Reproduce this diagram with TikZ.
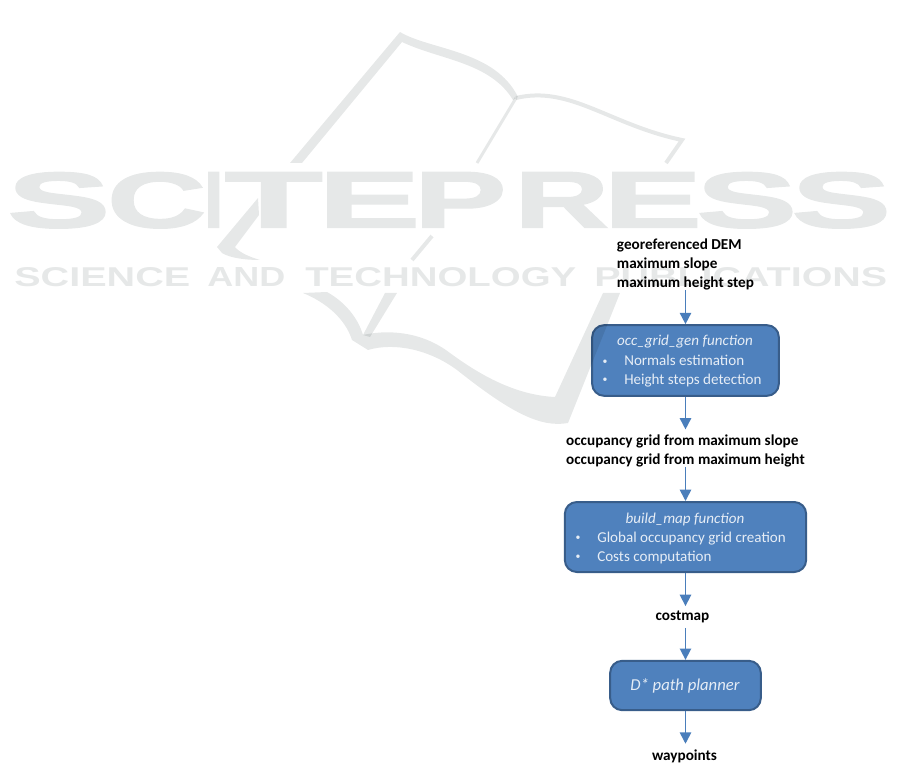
\documentclass[tikz,border=0pt]{standalone}
\usepackage{fontspec}
\setmainfont{Carlito}
\newfontfamily\markfont[FakeBold=1.5]{Liberation Sans Bold}
\newfontfamily\wordfont{Liberation Sans Bold}
\usetikzlibrary{arrows.meta}

\definecolor{taskfill}{HTML}{4F81BD}
\definecolor{taskline}{HTML}{385D8A}
\definecolor{flowline}{HTML}{4A7EBB}
\definecolor{tasktext}{HTML}{E6EDF6}
\definecolor{markgray}{HTML}{E6E8E8}

\newcommand{\itembullet}{\llap{\raisebox{0.8pt}{\scalebox{0.65}{\textbullet}}\hspace{12.5pt}}}

\tikzset{
    taskbox/.style={draw=taskline, fill=taskfill, line width=1.5pt, rounded corners=9pt, inner sep=0pt},
    tasktitle/.style={text=tasktext, inner sep=0pt, anchor=base, font=\itshape\fontsize{11.3}{13}\selectfont},
    taskitem/.style={text=tasktext, inner sep=0pt, anchor=base west, font=\fontsize{11.3}{13}\selectfont},
    datalabel/.style={inner sep=0pt, align=left, font=\bfseries\fontsize{11.4}{14.25}\selectfont},
    flow/.style={draw=flowline, line width=1.25pt, -{Triangle[length=8.5pt, width=8.5pt]}},
    markstroke/.style={draw=markgray, line cap=butt}
}

\begin{document}
\begin{tikzpicture}[x=0.75pt, y=-0.75pt]
    \useasboundingbox (0, 0) rectangle (901, 763);

    % watermark letters
    \foreach \letter/\xleft/\xright [count=\i] in {S/14/103, C/113/200, I/206/221, T/232/315, E/325/413, P/420/500, R/520/603, E/610/695, S/703/790, S/798/884} {
        \pgfmathsetmacro{\markwd}{0.75*(\xright-\xleft-4)}
        \node[inner sep=0pt, anchor=north west, text=markgray] (mark\i) at (\xleft+2, 172)
            {\resizebox{\markwd pt}{41.5pt}{\markfont\kern-0.6pt \letter\kern-0.6pt}};
    }
    \foreach \word/\xleft/\xright [count=\i] in {SCIENCE/14/190, AND/207/285, TECHNOLOGY/305/576, PUBLICATIONS/594/887} {
        \pgfmathsetmacro{\markwd}{0.75*(\xright-\xleft)}
        \node[inner sep=0pt, anchor=north west, text=markgray] (word\i) at (\xleft, 267)
            {\resizebox{\markwd pt}{14.25pt}{\wordfont \word}};
    }

    % flow
    \node[datalabel] (inputs) at (685.5, 264) {georeferenced DEM\\maximum slope\\maximum height step};
    \node[taskbox, minimum width=140pt, minimum height=53pt] (occ) at (685.5, 360.5) {};
    \node[tasktitle] (occtitle) at (685, 346) {occ\_grid\_gen function};
    \node[taskitem] (occnormals) at (624, 365.5) {\itembullet Normals estimation};
    \node[taskitem] (occsteps) at (624, 384) {\itembullet Height steps detection};

    \node[datalabel] (grids) at (685.5, 450.5) {occupancy grid from maximum slope\\occupancy grid from maximum height};
    \node[taskbox, minimum width=181pt, minimum height=52.5pt] (build) at (685.5, 537) {};
    \node[tasktitle] (buildtitle) at (685, 523) {build\_map function};
    \node[taskitem] (buildglobal) at (597, 542) {\itembullet Global occupancy grid creation};
    \node[taskitem] (buildcosts) at (597, 561) {\itembullet Costs computation};

    \node[datalabel, minimum height=16pt] (costmap) at (682.5, 617) {costmap};
    \node[taskbox, minimum width=113pt, minimum height=37pt] (planner) at (685.5, 685.5) {};
    \node[tasktitle, anchor=center, font=\itshape\fontsize{12.5}{15}\selectfont] (plannertitle) at (685, 686) {D* path planner};
    \node[datalabel, minimum height=15pt] (waypoints) at (684.5, 756) {waypoints};

    \draw[flow] (inputs.south -| occ.north) -- (occ.north);
    \draw[flow, shorten >=3.5pt] (occ.south) -- (occ.south |- grids.north);
    \draw[flow] (occ.south |- grids.south) -- (build.north);
    \draw[flow] (build.south) -- (build.south |- costmap.north);
    \draw[flow] (build.south |- costmap.south) -- (planner.north);
    \draw[flow, shorten >=1.5pt] (planner.south) -- (planner.south |- waypoints.north);

    % watermark book
    \begin{scope}[blend mode=multiply]
        \fill[markgray] (400, 32) -- (290, 163) -- (302, 163) -- (402, 42)
            .. controls (440, 60) and (490, 62) .. (513, 100) -- (518, 97)
            .. controls (495, 50) and (430, 50) .. (400, 32) -- cycle;
        \draw[markstroke, line width=3pt] (516, 98) .. controls (570, 85) and (610, 125) .. (682, 140) -- (666, 163);
        \draw[markstroke, line width=2.2pt] (516, 98) -- (477, 163);
        \draw[markstroke, line width=3pt] (432, 236) -- (412, 260);
        \fill[markgray] (258, 198) -- (217, 247) -- (222, 253) .. controls (230, 258) and (245, 260) .. (260, 260)
            .. controls (250, 257) and (240, 253) .. (235, 247) -- (259, 215) -- cycle;
        \fill[markgray] (385, 293) -- (397, 293) -- (370, 337) -- (363, 335) -- cycle;
        \fill[markgray] (303, 293) -- (327, 292) .. controls (345, 302) and (358, 318) .. (363, 335)
            .. controls (385, 330) and (420, 330) .. (450, 353)
            .. controls (480, 375) and (515, 395) .. (555, 397)
            -- (603, 293) -- (620, 293) -- (568, 423)
            .. controls (540, 428) and (510, 412) .. (457, 370)
            .. controls (430, 350) and (395, 342) .. (368, 350)
            -- (352, 340) .. controls (345, 318) and (325, 302) .. (303, 293) -- cycle;
    \end{scope}
\end{tikzpicture}
\end{document}
